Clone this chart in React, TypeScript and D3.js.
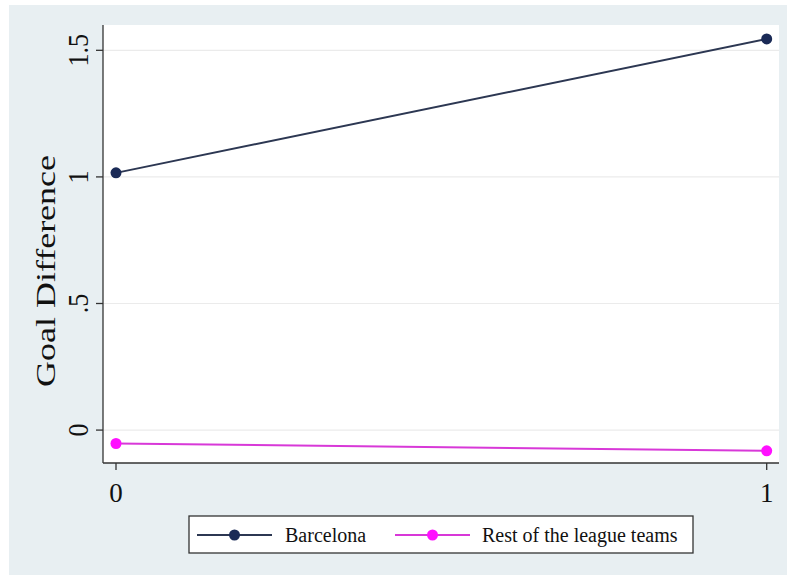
import React from "react";
import * as d3 from "d3";

const xValues = [0, 1];
const barcelona = [1.016, 1.545];
const restOfLeague = [-0.053, -0.082];
const seriesNames = ["Barcelona", "Rest of the league teams"];
const yTickValues = [0, 0.5, 1, 1.5];
const yTickLabels = ["0", ".5", "1", "1.5"];
const xTickValues = [0, 1];
const xTickLabels = ["0", "1"];
const yTitle = "Goal Difference";

const W = 787;
const H = 575;
const plot = { left: 103, right: 779, top: 25, bottom: 463 };
const FONT = "'Liberation Serif', 'Times New Roman', serif";

export default function App() {
  const x = d3.scaleLinear().domain([0, 1]).range([116, 766.7]);
  const y = d3.scaleLinear().domain([-0.13, 1.6]).range([plot.bottom, plot.top]);
  const line = d3
    .line<number>()
    .x((_, i) => x(xValues[i]))
    .y((d) => y(d));

  const series = [
    { name: seriesNames[0], values: barcelona, line: "#2c3752", marker: "#1a2a56" },
    { name: seriesNames[1], values: restOfLeague, line: "#d838d8", marker: "#ff10ff" },
  ];

  const legendItems = [
    { x1: 197, x2: 272, tx: 285 },
    { x1: 395, x2: 470, tx: 482 },
  ];

  return (
    <svg
      width={W}
      height={H}
      style={{ position: "absolute", left: 0, top: 0, display: "block" }}
    >
      <rect x={0} y={0} width={W} height={H} fill="#ffffff" />
      <rect x={9} y={5} width={W - 9} height={H - 5} fill="#e8eff2" />
      <rect
        x={plot.left}
        y={plot.top}
        width={plot.right - plot.left}
        height={plot.bottom - plot.top}
        fill="#ffffff"
      />
      {yTickValues.map((v) => (
        <line
          key={"g" + v}
          x1={plot.left}
          x2={plot.right}
          y1={y(v)}
          y2={y(v)}
          stroke="#ebebeb"
          strokeWidth={1.2}
        />
      ))}
      <line x1={plot.left} x2={plot.left} y1={plot.top} y2={plot.bottom} stroke="#333" strokeWidth={1.3} />
      <line x1={plot.left} x2={plot.right} y1={plot.bottom} y2={plot.bottom} stroke="#333" strokeWidth={1.3} />
      {yTickValues.map((v, i) => (
        <g key={"yt" + v}>
          <line x1={plot.left - 7} x2={plot.left} y1={y(v)} y2={y(v)} stroke="#333" strokeWidth={1.3} />
          <text
            transform={`translate(88,${y(v)}) rotate(-90) scale(1,1.12)`}
            textAnchor="middle"
            fontFamily={FONT}
            fontSize={26}
            fill="#111"
          >
            {yTickLabels[i]}
          </text>
        </g>
      ))}
      {xTickValues.map((v, i) => (
        <g key={"xt" + v}>
          <line x1={x(v)} x2={x(v)} y1={plot.bottom} y2={plot.bottom + 7} stroke="#333" strokeWidth={1.3} />
          <text
            x={x(v)}
            y={502}
            textAnchor="middle"
            fontFamily={FONT}
            fontSize={27}
            fill="#111"
          >
            {xTickLabels[i]}
          </text>
        </g>
      ))}
      <text
        transform={`translate(55,${(155 + 387) / 2}) rotate(-90)`}
        textAnchor="middle"
        fontFamily={FONT}
        fontSize={27}
        fill="#111"
        textLength={232}
        lengthAdjust="spacingAndGlyphs"
      >
        {yTitle}
      </text>
      {series.map((s) => (
        <g key={s.name}>
          <path d={line(s.values) || ""} fill="none" stroke={s.line} strokeWidth={2} />
          {s.values.map((v, i) => (
            <circle key={i} cx={x(xValues[i])} cy={y(v)} r={5.5} fill={s.marker} />
          ))}
        </g>
      ))}
      <rect x={189} y={516} width={504} height={37} fill="#ffffff" stroke="#333" strokeWidth={1.3} />
      {series.map((s, i) => {
        const it = legendItems[i];
        return (
          <g key={"lg" + s.name}>
            <line x1={it.x1} x2={it.x2} y1={535} y2={535} stroke={s.line} strokeWidth={2} />
            <circle cx={(it.x1 + it.x2) / 2} cy={535} r={5.5} fill={s.marker} />
            <text x={it.tx} y={541.5} fontFamily={FONT} fontSize={20} fill="#111">
              {s.name}
            </text>
          </g>
        );
      })}
    </svg>
  );
}
